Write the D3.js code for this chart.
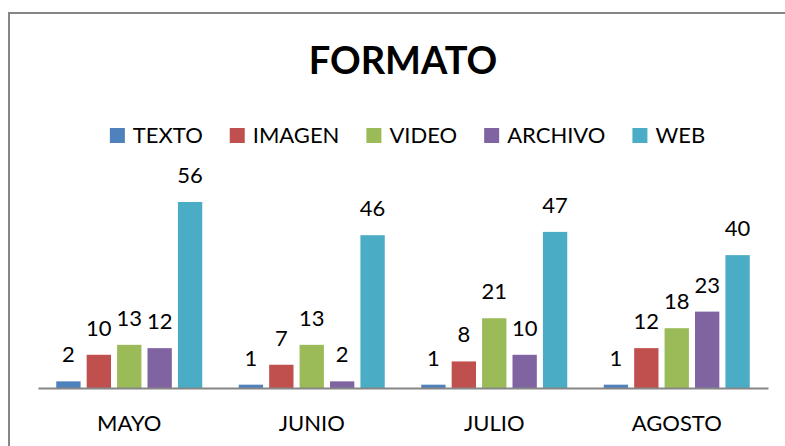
<!DOCTYPE html>
<html>
<head>
<meta charset="utf-8">
<script src="https://cdn.jsdelivr.net/npm/d3@7"></script>
<style>
  html, body { margin: 0; padding: 0; background: #fff; }
  svg { display: block; }
  text { font-family: Lato, "Open Sans", sans-serif; fill: #000; }
</style>
</head>
<body>
<svg id="chart" width="785" height="446"></svg>
<script>
const categories = ["MAYO", "JUNIO", "JULIO", "AGOSTO"];
const seriesNames = ["TEXTO", "IMAGEN", "VIDEO", "ARCHIVO", "WEB"];
const texto   = [2, 1, 1, 1];
const imagen  = [10, 7, 8, 12];
const video   = [13, 13, 21, 18];
const archivo = [12, 2, 10, 23];
const web     = [56, 46, 47, 40];
const colors  = ["#4F81BD", "#C0504D", "#9BBB59", "#8064A2", "#4BACC6"];
const titleText = "FORMATO";

const seriesValues = [texto, imagen, video, archivo, web];

const W = 785, H = 446;
const svg = d3.select("#chart");

// outer chart border (top and left visible)
svg.append("rect")
  .attr("x", 9).attr("y", 13)
  .attr("width", W + 20).attr("height", H + 20)
  .attr("fill", "#fff")
  .attr("stroke", "#868686").attr("stroke-width", 2);

const plot = { left: 38, right: 768, top: 188.7, bottom: 388 };

const x0 = d3.scaleBand().domain(categories).range([plot.left, plot.right]).padding(0);
const groupW = 146;
const x1 = d3.scaleBand().domain(seriesNames).range([0, groupW]).paddingInner(0.2).paddingOuter(0);
const y = d3.scaleLinear().domain([0, 60]).range([plot.bottom, plot.top]);

const groups = svg.append("g").selectAll("g")
  .data(categories)
  .join("g")
  .attr("transform", d => `translate(${x0(d) + (x0.bandwidth() - groupW) / 2},0)`);

groups.each(function(cat, ci) {
  const g = d3.select(this);
  const rows = seriesNames.map((s, si) => ({ s, si, v: seriesValues[si][ci] }));
  g.selectAll("rect")
    .data(rows)
    .join("rect")
    .attr("x", d => x1(d.s))
    .attr("width", x1.bandwidth())
    .attr("y", d => y(d.v))
    .attr("height", d => y(0) - y(d.v))
    .attr("fill", d => colors[d.si]);
  g.selectAll("text")
    .data(rows)
    .join("text")
    .attr("x", d => x1(d.s) + x1.bandwidth() / 2)
    .attr("y", d => y(d.v) - 19)
    .attr("text-anchor", "middle")
    .attr("font-size", 22)
    .text(d => d.v);
});

// x axis
const xAxis = d3.axisBottom(x0).tickSize(0).tickPadding(0);
const ax = svg.append("g").attr("transform", `translate(0,${plot.bottom})`).call(xAxis);
ax.select(".domain").attr("stroke", "#868686").attr("stroke-width", 2);
ax.selectAll(".tick text")
  .attr("font-size", 22)
  .attr("dy", 0)
  .attr("y", 43)
  .style("font-family", "Lato, sans-serif")
  .attr("fill", "#000");

// title
svg.append("text")
  .attr("x", (plot.left + plot.right) / 2)
  .attr("y", 74)
  .attr("text-anchor", "middle")
  .attr("font-size", 38)
  .attr("font-weight", "bold")
  .text(titleText);

// legend
const legend = svg.append("g");
const items = legend.selectAll("g").data(seriesNames).join("g");
items.append("rect")
  .attr("width", 15).attr("height", 15)
  .attr("y", 128)
  .attr("fill", (d, i) => colors[i]);
items.append("text")
  .attr("x", 23)
  .attr("y", 143)
  .attr("font-size", 22)
  .text(d => d);
let cx = 0;
const offs = [];
items.each(function() {
  const w = d3.select(this).select("text").node().getComputedTextLength();
  offs.push(cx);
  cx += 23 + w + 27;
});
const totalW = cx - 27;
const startX = 407.5 - totalW / 2;
items.attr("transform", (d, i) => `translate(${startX + offs[i]},0)`);
</script>
</body>
</html>
